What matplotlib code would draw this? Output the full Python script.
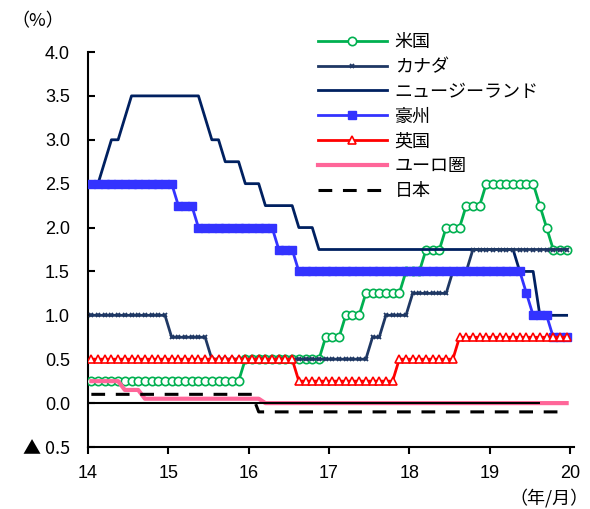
import matplotlib
matplotlib.use("Agg")
import matplotlib.pyplot as plt
import numpy as np

plt.rcParams['font.family'] = ['Liberation Sans', 'Noto Sans CJK JP', 'DejaVu Sans']
cjk = ['Noto Sans CJK JP', 'DejaVu Sans']

# 月次の政策金利（2014年1月～2019年12月）
us = [0.25] * 12 + \
     [0.25] * 11 + [0.5] + \
     [0.5] * 11 + [0.75] + \
     [0.75, 0.75, 1.0, 1.0, 1.0, 1.25, 1.25, 1.25, 1.25, 1.25, 1.25, 1.5] + \
     [1.5, 1.5, 1.75, 1.75, 1.75, 2.0, 2.0, 2.0, 2.25, 2.25, 2.25, 2.5] + \
     [2.5, 2.5, 2.5, 2.5, 2.5, 2.5, 2.5, 2.25, 2.0, 1.75, 1.75, 1.75]
canada = [1.0] * 12 + \
         [0.75, 0.75, 0.75, 0.75, 0.75, 0.75, 0.5, 0.5, 0.5, 0.5, 0.5, 0.5] + \
         [0.5] * 12 + \
         [0.5, 0.5, 0.5, 0.5, 0.5, 0.5, 0.75, 0.75, 1.0, 1.0, 1.0, 1.0] + \
         [1.25, 1.25, 1.25, 1.25, 1.25, 1.25, 1.5, 1.5, 1.5, 1.75, 1.75, 1.75] + \
         [1.75] * 12
nz = [2.5, 2.5, 2.75, 3.0, 3.0, 3.25, 3.5, 3.5, 3.5, 3.5, 3.5, 3.5] + \
     [3.5, 3.5, 3.5, 3.5, 3.5, 3.25, 3.0, 3.0, 2.75, 2.75, 2.75, 2.5] + \
     [2.5, 2.5, 2.25, 2.25, 2.25, 2.25, 2.25, 2.0, 2.0, 2.0, 1.75, 1.75] + \
     [1.75] * 12 + \
     [1.75] * 12 + \
     [1.75, 1.75, 1.75, 1.75, 1.5, 1.5, 1.5, 1.0, 1.0, 1.0, 1.0, 1.0]
aus = [2.5] * 12 + \
      [2.5, 2.25, 2.25, 2.25, 2.0, 2.0, 2.0, 2.0, 2.0, 2.0, 2.0, 2.0] + \
      [2.0, 2.0, 2.0, 2.0, 1.75, 1.75, 1.75, 1.5, 1.5, 1.5, 1.5, 1.5] + \
      [1.5] * 12 + \
      [1.5] * 12 + \
      [1.5, 1.5, 1.5, 1.5, 1.5, 1.25, 1.0, 1.0, 1.0, 0.75, 0.75, 0.75]
uk = [0.5] * 12 + \
     [0.5] * 12 + \
     [0.5, 0.5, 0.5, 0.5, 0.5, 0.5, 0.5, 0.25, 0.25, 0.25, 0.25, 0.25] + \
     [0.25, 0.25, 0.25, 0.25, 0.25, 0.25, 0.25, 0.25, 0.25, 0.25, 0.5, 0.5] + \
     [0.5, 0.5, 0.5, 0.5, 0.5, 0.5, 0.5, 0.75, 0.75, 0.75, 0.75, 0.75] + \
     [0.75] * 12
euro = [0.25, 0.25, 0.25, 0.25, 0.25, 0.15, 0.15, 0.15, 0.05, 0.05, 0.05, 0.05] + \
       [0.05] * 12 + \
       [0.05, 0.05, 0.0, 0.0, 0.0, 0.0, 0.0, 0.0, 0.0, 0.0, 0.0, 0.0] + \
       [0.0] * 12 + \
       [0.0] * 12 + \
       [0.0] * 12
japan = [0.1] * 12 + \
        [0.1] * 12 + \
        [0.1, -0.1, -0.1, -0.1, -0.1, -0.1, -0.1, -0.1, -0.1, -0.1, -0.1, -0.1] + \
        [-0.1] * 12 + \
        [-0.1] * 12 + \
        [-0.1] * 12

# 各月の位置（年の目盛の間に配置）
months = np.arange(len(us))
x = 14 + (months + 0.5) / 12

y_ticks = [4.0, 3.5, 3.0, 2.5, 2.0, 1.5, 1.0, 0.5, 0.0, -0.5]
y_ticklabels = ['4.0', '3.5', '3.0', '2.5', '2.0', '1.5', '1.0', '0.5', '0.0', '▲ 0.5']
x_ticks = [14, 15, 16, 17, 18, 19, 20]
zero_line_end = 19.63

fig = plt.figure(figsize=(5.9, 5.09), dpi=100)
ax = fig.add_axes([88 / 590, 1 - 447 / 509, 486 / 590, 395 / 509])

ax.plot(x, us, color='#00B050', lw=2, marker='o', ms=6, mfc='white', mec='#00B050',
        mew=1.2, label='米国', zorder=3)
ax.plot(x, canada, color='#1F3864', lw=2, marker='x', ms=3.5, mew=1.3,
        label='カナダ', zorder=5)
ax.plot(x, nz, color='#002060', lw=2, label='ニュージーランド', zorder=4)
ax.plot(x, aus, color='#3333FF', lw=2, marker='s', ms=6, mfc='#3333FF', mec='#3333FF',
        label='豪州', zorder=6)
ax.plot(x, uk, color='#FF0000', lw=2, marker='^', ms=6, mfc='white', mec='#FF0000',
        mew=1.2, label='英国', zorder=7)
ax.plot(x, euro, color='#FF6699', lw=3, label='ユーロ圏', zorder=8)
ax.plot(x, japan, color='black', lw=2.2, ls=(0, (4.5, 3.5)), label='日本', zorder=9)
ax.hlines(0, 14, zero_line_end, color='black', lw=1.5, zorder=8.5)

ax.set_xlim(14, 20.05)
ax.set_ylim(-0.5, 4.0)
ax.set_yticks(y_ticks)
ax.set_yticklabels(y_ticklabels)
ax.set_xticks(x_ticks)
ax.set_xticklabels([str(t) for t in x_ticks])
# ▲は全角の記号で
ax.get_yticklabels()[-1].set_fontfamily(cjk)

for side in ['top', 'right']:
    ax.spines[side].set_visible(False)
for side in ['left', 'bottom']:
    ax.spines[side].set_linewidth(1.5)
ax.tick_params(axis='y', direction='in', length=5, width=1.5, pad=13, labelsize=13)
ax.tick_params(axis='x', direction='out', length=5, width=1.5, pad=8, labelsize=13)

leg = ax.legend(loc='upper left', bbox_to_anchor=(318 / 590, 1 - 33 / 509),
                bbox_transform=fig.transFigure, frameon=False,
                prop={'family': cjk, 'size': 13},
                handlelength=3.8, handletextpad=0.45, labelspacing=0.38,
                borderpad=0, borderaxespad=0)

fig.text(38 / 590, 1 - 21 / 509, '（%）', fontsize=13, va='center', ha='center',
         family=cjk)
fig.text(589 / 590, 1 - 498 / 509, '（年/月）', fontsize=13, va='center', ha='right',
         family=cjk)

fig.savefig('out.png', dpi=100)
